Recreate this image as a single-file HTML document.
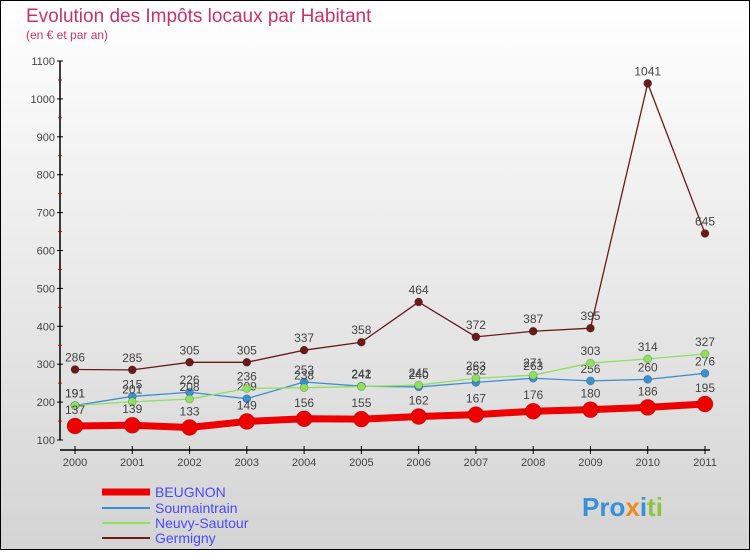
<!DOCTYPE html>
<html><head><meta charset="utf-8"><style>
body{margin:0;width:750px;height:550px;overflow:hidden;font-family:"Liberation Sans",sans-serif}
</style></head><body>
<svg width="750" height="550" xmlns="http://www.w3.org/2000/svg" id="svg">
<defs><linearGradient id="bg" x1="0" y1="0" x2="0" y2="1"><stop offset="0" stop-color="#ffffff"/><stop offset="1" stop-color="#d4d4d4"/></linearGradient></defs>
<rect x="0.5" y="0.5" width="749" height="549" fill="url(#bg)" stroke="#000"/>
<text x="26" y="22" font-size="19" fill="#c8326a">Evolution des Impôts locaux par Habitant</text>
<text x="26" y="39" font-size="12" fill="#c8326a">(en € et par an)</text>
<g id="axes"></g><g id="plot"></g>
<g font-size="14">
<line x1="102" y1="492" x2="150" y2="492" stroke="#ee0000" stroke-width="7"/><text x="155" y="497" fill="#4a4aff">BEUGNON</text>
<line x1="102" y1="508" x2="150" y2="508" stroke="#3d8fd0" stroke-width="2"/><text x="155" y="513" fill="#4a4aff">Soumaintrain</text>
<line x1="102" y1="523" x2="150" y2="523" stroke="#8fe060" stroke-width="2"/><text x="155" y="528" fill="#4a4aff">Neuvy-Sautour</text>
<line x1="102" y1="538" x2="150" y2="538" stroke="#6b1a1a" stroke-width="2"/><text x="155" y="543" fill="#4a4aff">Germigny</text>
</g>
<text x="582" y="516" font-size="26" font-weight="bold"><tspan fill="#3a8fd8">Pro</tspan><tspan fill="#f08a20">x</tspan><tspan fill="#3a8fd8">i</tspan><tspan fill="#8cc63f">ti</tspan></text>
</svg>
<script>
const years=[2000,2001,2002,2003,2004,2005,2006,2007,2008,2009,2010,2011];
const yTicks=[100,200,300,400,500,600,700,800,900,1000,1100];
const beugnon=[137,139,133,149,156,155,162,167,176,180,186,195];
const soumaintrain=[191,215,226,209,253,242,240,252,263,256,260,276];
const neuvy=[191,201,208,236,238,241,245,263,271,303,314,327];
const germigny=[286,285,305,305,337,358,464,372,387,395,1041,645];
const NS="http://www.w3.org/2000/svg";
const X=i=>75+i*(630/11), Y=v=>440-(v-100)*0.379;
function mk(t,a,p){const e=document.createElementNS(NS,t);for(const k in a)e.setAttribute(k,a[k]);p.appendChild(e);return e;}
const ax=document.getElementById('axes'),pl=document.getElementById('plot');
const yl=mk('line',{x1:60,y1:Y(1100),x2:60,y2:Y(100),stroke:'#000','stroke-width':1.5},ax);

const xl=mk('line',{x1:60,y1:450,x2:710,y2:450,stroke:'#000','stroke-width':1.5},ax);

yTicks.forEach(v=>{mk('line',{x1:57,y1:Y(v),x2:63,y2:Y(v),stroke:'#000'},ax);
 if(v<1100)mk('line',{x1:58,y1:Y(v+50),x2:62,y2:Y(v+50),stroke:'#d00'},ax);
 const t=mk('text',{x:55,y:Y(v)+4,'font-size':11,fill:'#444','text-anchor':'end'},ax);t.textContent=v;
 });
years.forEach((y,i)=>{mk('line',{x1:X(i),y1:446,x2:X(i),y2:454,stroke:'#000'},ax);
 const t=mk('text',{x:X(i),y:466,'font-size':11,fill:'#444','text-anchor':'middle'},ax);t.textContent=y;
 });
function series(d,col,w,r,name){const g=mk('g',{},pl);
 mk('polyline',{points:d.map((v,i)=>X(i)+','+Y(v)).join(' '),fill:'none',stroke:col,'stroke-width':w,'stroke-linejoin':'round'},g);
 d.forEach((v,i)=>{const c=mk('circle',{cx:X(i),cy:Y(v),r:r,fill:col,stroke:'rgba(0,0,0,0.25)','stroke-width':0.7},g);
  
  const t=mk('text',{x:X(i),y:Y(v)-8-(r>5?4:0),'font-size':12,fill:'#444','text-anchor':'middle'},g);t.textContent=v;
  });}
series(germigny,'#6b1a1a',1.3,4,'germigny');
series(soumaintrain,'#3d8fd0',1.3,4,'soumaintrain');
series(neuvy,'#8fe060',1.3,4,'neuvy');
series(beugnon,'#ee0000',7,8,'beugnon');
</script>
</body></html>
